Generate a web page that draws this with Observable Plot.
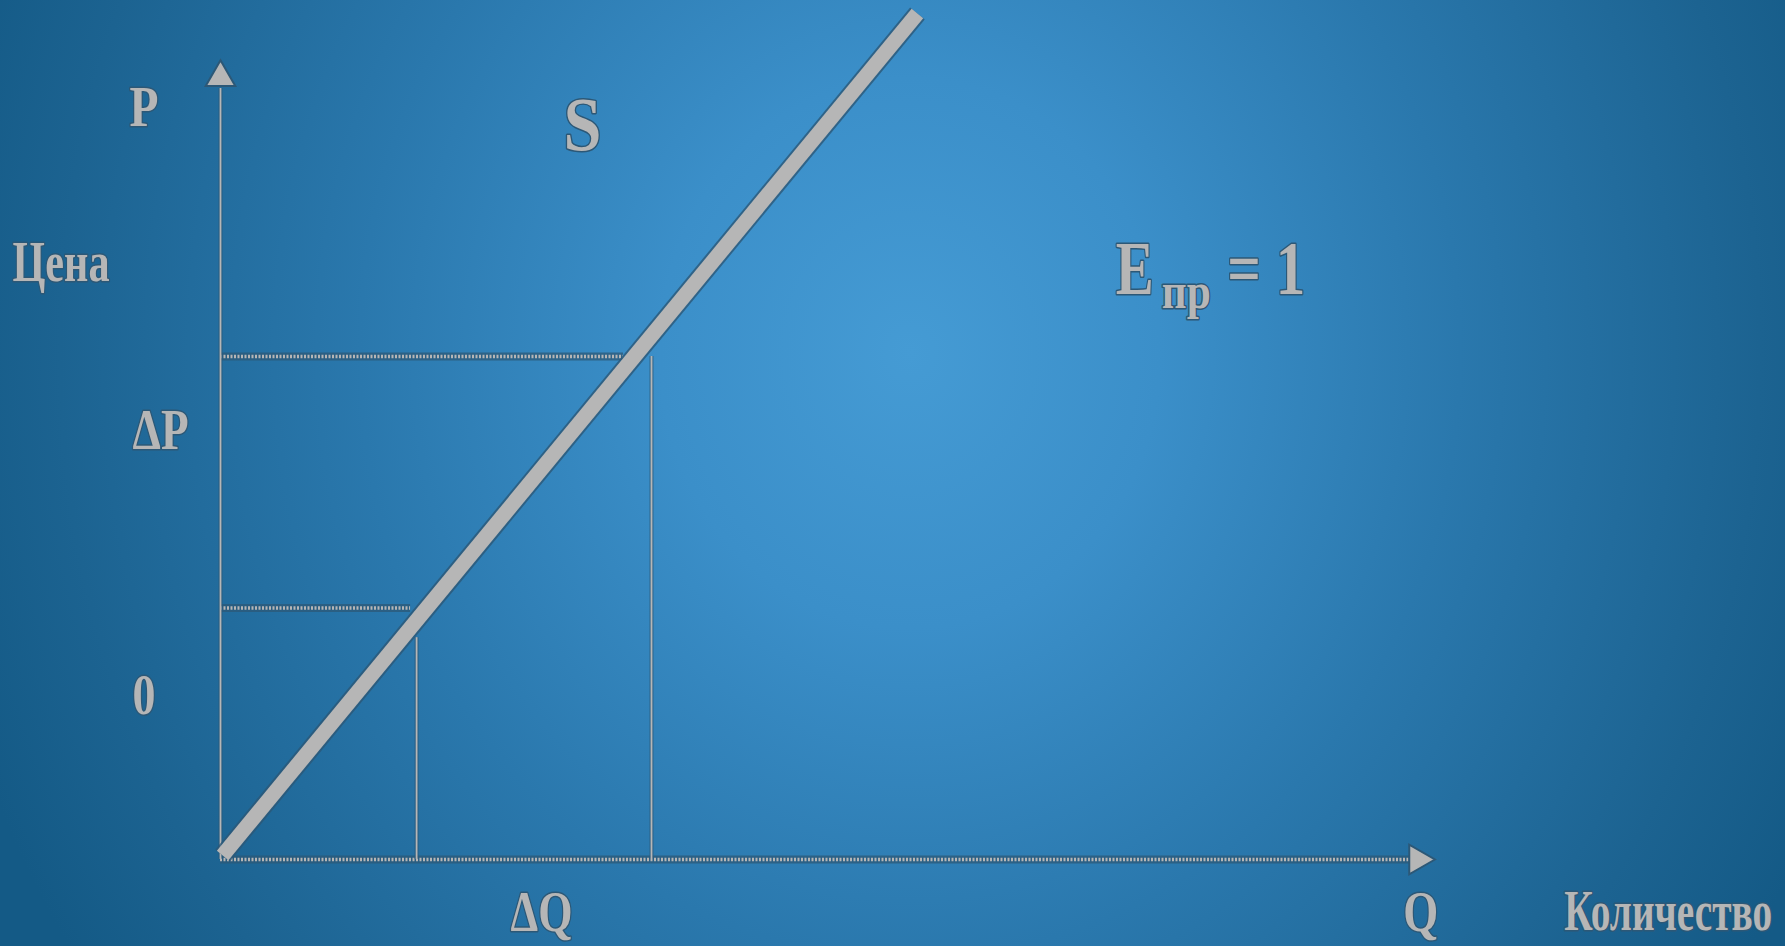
<!DOCTYPE html>
<html><head><meta charset="utf-8">
<script src="https://cdn.jsdelivr.net/npm/d3@7"></script>
<script src="https://cdn.jsdelivr.net/npm/@observablehq/plot@0.6"></script>
<style>
html,body{margin:0;padding:0;width:1785px;height:946px;overflow:hidden;}
body{background: radial-gradient(ellipse 1000px 1100px at 910px 353px, #459bd4 0%, #3b8fc9 25%, #2a78ad 55%, #1c6391 85%, #145a86 100%);}
svg{display:block}
</style></head><body><div id="chart"></div>
<script>
// Supply curve S (quantity Q, price P)
const supplyQ = [0.05, 16.17];
const supplyP = [0.08, 16.82];

// Horizontal guide lines (price level, end quantity)
const hGuideP = [10, 5];
const hGuideQEnd = [9.35, 4.41];

// Vertical guide lines (quantity level, end price)
const vGuideQ = [10, 4.55];
const vGuidePEnd = [10, 4.41];

// Axis extents
const axisMaxQ = 27.6;
const axisMaxP = 15.33;
const arrowQ = 27.78;
const arrowP = 15.55;

// Price-side labels
const pLabels = ["P", "Цена", "ΔP", "0"];
const pLabelQ = [-1.775, -3.70, -1.39, -1.775];
const pLabelP = [14.59, 11.51, 8.17, 2.90];

// Quantity-side labels (ΔQ and Q centred; axis title right-aligned)
const qLabels = ["ΔQ", "Q"];
const qLabelQ = [7.45, 27.85];
const qLabelP = [-1.43, -1.43];
const qTitle = "Количество";
const qTitleQ = 36.0, qTitleP = -1.40;

// Curve label and elasticity
const curveLabel = "S";
const curveLabelQ = 8.40, curveLabelP = 14.10;
const elasticity = ["E", "пр", "= 1"];
const elasticityQ = [20.77, 21.84, 23.36];
const elasticityP = [11.25, 10.97, 11.25];

const supply = supplyQ.map((q, i) => ({q, p: supplyP[i]}));
const hGuides = hGuideP.map((p, i) => ({p, qEnd: hGuideQEnd[i]}));
const vGuides = vGuideQ.map((q, i) => ({q, pEnd: vGuidePEnd[i]}));
const pLab = pLabels.map((t, i) => ({t, q: pLabelQ[i], p: pLabelP[i]}));
const qLab = qLabels.map((t, i) => ({t, q: qLabelQ[i], p: qLabelP[i]}));
const eLab = elasticity.map((t, i) => ({t, q: elasticityQ[i], p: elasticityP[i]}));

const dark = "#2c5877";
const gray = "#b6b6b6";
const txt = {fontFamily: "Liberation Serif", fontWeight: "bold", fill: gray, stroke: dark, strokeWidth: 3, lineAnchor: "bottom"};

const svg = Plot.plot({
  width: 1785, height: 946,
  marginTop: 0, marginRight: 0, marginBottom: 0, marginLeft: 0,
  x: {domain: [0, 10], range: [220, 651], axis: null},
  y: {domain: [0, 10], range: [859, 356], axis: null},
  style: {background: "transparent", overflow: "visible"},
  marks: [
    // dotted horizontal guides and x axis
    Plot.ruleY(hGuides, {y: "p", x1: 0, x2: "qEnd", stroke: dark, strokeWidth: 8, strokeOpacity: 0.75}),
    Plot.ruleY(hGuides, {y: "p", x1: 0, x2: "qEnd", stroke: gray, strokeWidth: 3.5, strokeDasharray: "2,1.5"}),
    Plot.ruleY([0], {x1: 0, x2: axisMaxQ, stroke: dark, strokeWidth: 8, strokeOpacity: 0.75}),
    Plot.ruleY([0], {x1: 0, x2: axisMaxQ, stroke: gray, strokeWidth: 3.5, strokeDasharray: "2,1.5"}),
    // y axis
    Plot.ruleX([0], {y1: 0, y2: axisMaxP, stroke: dark, strokeWidth: 4, strokeOpacity: 0.7}),
    Plot.ruleX([0], {y1: 0, y2: axisMaxP, stroke: gray, strokeWidth: 1.8}),
    // vertical guides
    Plot.ruleX(vGuides, {x: "q", y1: 0, y2: "pEnd", stroke: dark, strokeWidth: 4, strokeOpacity: 0.7}),
    Plot.ruleX(vGuides, {x: "q", y1: 0, y2: "pEnd", stroke: gray, strokeWidth: 1.8}),
    // arrow heads
    Plot.dot([{q: arrowQ, p: 0, r: 90}, {q: 0, p: arrowP, r: 0}], {x: "q", y: "p", rotate: "r", symbol: "triangle", r: 11, fill: gray, stroke: dark, strokeWidth: 2}),
    // supply line
    Plot.line(supply, {x: "q", y: "p", stroke: dark, strokeWidth: 19, strokeOpacity: 0.8, strokeLinecap: "butt"}),
    Plot.line(supply, {x: "q", y: "p", stroke: gray, strokeWidth: 15, strokeLinecap: "butt"}),
    // labels
    Plot.text(pLab, {x: "q", y: "p", text: "t", fontSize: 56, textAnchor: "middle", ...txt}),
    Plot.text(qLab, {x: "q", y: "p", text: "t", fontSize: 56, textAnchor: "middle", ...txt}),
    Plot.text([qTitle], {x: qTitleQ, y: qTitleP, text: d => d, fontSize: 56, textAnchor: "end", ...txt}),
    Plot.text([curveLabel], {x: curveLabelQ, y: curveLabelP, text: d => d, fontSize: 76, textAnchor: "middle", ...txt}),
    Plot.text(eLab, {x: "q", y: "p", text: "t", fontSize: d => d.t === "пр" ? 50 : 76, textAnchor: "start", ...txt})
  ]
});

document.getElementById("chart").appendChild(svg);

// condense the glyphs horizontally to the reference's narrow lettering
const widths = {"P": 29, "Цена": 97, "ΔP": 56, "0": 23, "ΔQ": 62, "Q": 35, "Количество": 208, "S": 38, "E": 38, "пр": 49, "= 1": 78};
d3.select(svg).selectAll("text").each(function() {
  const w = widths[this.textContent];
  if (!w) return;
  const w0 = this.getComputedTextLength();
  if (!w0) return;
  const sx = w / w0;
  const ax = +(this.getAttribute("x") || 0);
  const t = this.getAttribute("transform") || "";
  this.setAttribute("transform", `${t} translate(${ax},0) scale(${sx},1) translate(${-ax},0)`);
});
</script></body></html>
